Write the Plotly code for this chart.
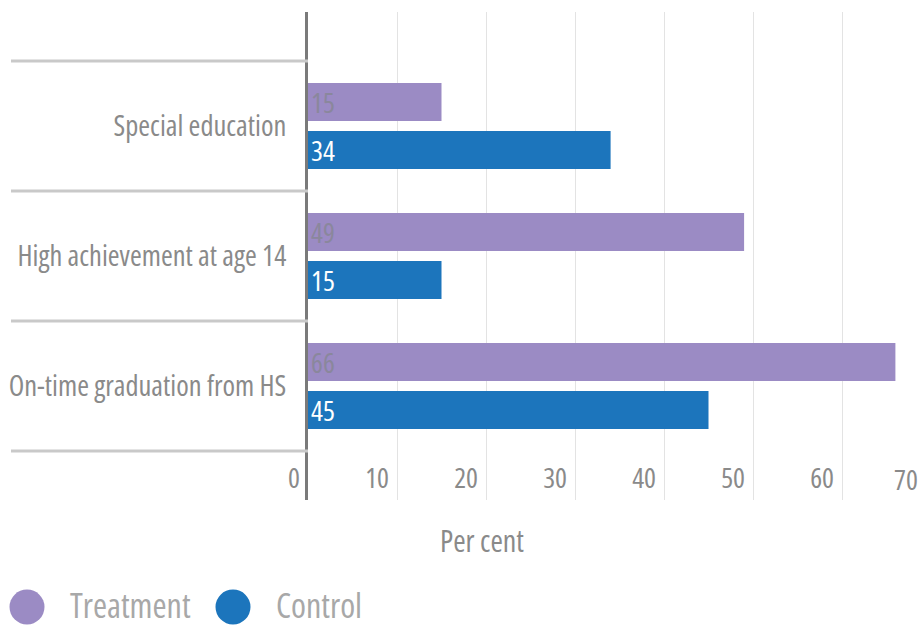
import plotly.graph_objects as go

categories = ["Special education", "High achievement at age 14", "On-time graduation from HS"]
series_names = ["Treatment", "Control"]
treatment = [15, 49, 66]
control = [34, 15, 45]
tick_vals = [0, 10, 20, 30, 40, 50, 60, 70]
axis_title = "Per cent"

FONT = "Open Sans, DejaVu Sans Condensed, sans-serif"
colors = ["#9b8bc4", "#1c75bc"]
text_colors = ["#8a879c", "#ffffff"]
GREY = "#8a8a8a"


def cond(s):
    return "<span style='font-stretch:condensed'>" + str(s) + "</span>"


W, H = 924, 626
L, R, T, B = 308, 0, 12, 126
plot_w = W - L - R
plot_h = H - T - B
px_per_unit = 8.9
x_max = plot_w / px_per_unit

fig = go.Figure()
for name, vals, c, tc in zip(series_names, [treatment, control], colors, text_colors):
    fig.add_trace(go.Bar(
        y=categories, x=vals, name=name, orientation="h",
        marker=dict(color=c, line=dict(width=0)),
        text=[cond(v) for v in vals], textposition="inside",
        insidetextanchor="start", textangle=0, constraintext="none",
        textfont=dict(family=FONT, size=28, color=tc),
        showlegend=False, hoverinfo="skip",
    ))

shapes = []
for b in [-0.5, 0.5, 1.5, 2.5]:
    shapes.append(dict(type="line", xref="paper", yref="y",
                       x0=(11 - L) / plot_w, x1=0, y0=b, y1=b,
                       line=dict(color="#c9c9c9", width=3)))

annotations = []
# tick labels that fall just beyond the visible range
for tv in tick_vals:
    if tv > x_max:
        annotations.append(dict(xref="paper", yref="paper",
                                x=(920 - L) / plot_w, xanchor="right",
                                y=(H - B - 479) / plot_h, yanchor="middle",
                                text=cond(tv), showarrow=False,
                                font=dict(family=FONT, size=28, color=GREY)))

annotations.append(dict(xref="paper", yref="paper",
                        x=(482 - L) / plot_w, xanchor="center",
                        y=(H - B - 540) / plot_h, yanchor="middle",
                        text=cond(axis_title), showarrow=False,
                        font=dict(family=FONT, size=30, color=GREY)))

# legend with large circular markers
legend_cx = [27, 233]
legend_tx = [68, 274]
ly = (H - B - 605) / plot_h
for name, c, cx, tx in zip(series_names, colors, legend_cx, legend_tx):
    shapes.append(dict(type="circle", xref="paper", yref="paper",
                       xsizemode="pixel", ysizemode="pixel",
                       xanchor=(cx - L) / plot_w, yanchor=(H - B - 607) / plot_h,
                       x0=-17.5, x1=17.5, y0=-17.5, y1=17.5,
                       fillcolor=c, line=dict(width=0)))
    annotations.append(dict(xref="paper", yref="paper",
                            x=(tx - L) / plot_w, xanchor="left",
                            y=ly, yanchor="middle", text=cond(name), showarrow=False,
                            font=dict(family=FONT, size=34, color="#a8a8a8")))

fig.update_layout(
    width=W, height=H,
    margin=dict(l=L, r=R, t=T, b=B, pad=0, autoexpand=False),
    paper_bgcolor="white", plot_bgcolor="white",
    barmode="group", bargap=0.262, bargroupgap=0.21,
    font=dict(family=FONT, color=GREY),
    shapes=shapes, annotations=annotations,
    showlegend=False,
    xaxis=dict(range=[0, x_max], tickmode="array", tickvals=tick_vals,
               ticktext=[cond(v) for v in tick_vals], automargin=False,
               showgrid=True, gridcolor="#e3e3e3", gridwidth=1,
               zeroline=False, showline=False, ticks="",
               ticklabelposition="inside left", ticklabeloverflow="allow",
               ticklabelshift=-8,
               tickfont=dict(family=FONT, size=28, color=GREY)),
    yaxis=dict(categoryorder="array", categoryarray=categories, automargin=False,
               tickmode="array", tickvals=categories,
               ticktext=[cond(c) for c in categories],
               range=[2.877, -0.877], showgrid=False, zeroline=False,
               showline=True, linecolor="#7a7a7a", linewidth=3,
               ticks="", ticklabelstandoff=13,
               tickfont=dict(family=FONT, size=28.5, color=GREY)),
)

fig.write_html("out.html", config={"displayModeBar": False},
               post_script="document.body.style.margin='0px';")
